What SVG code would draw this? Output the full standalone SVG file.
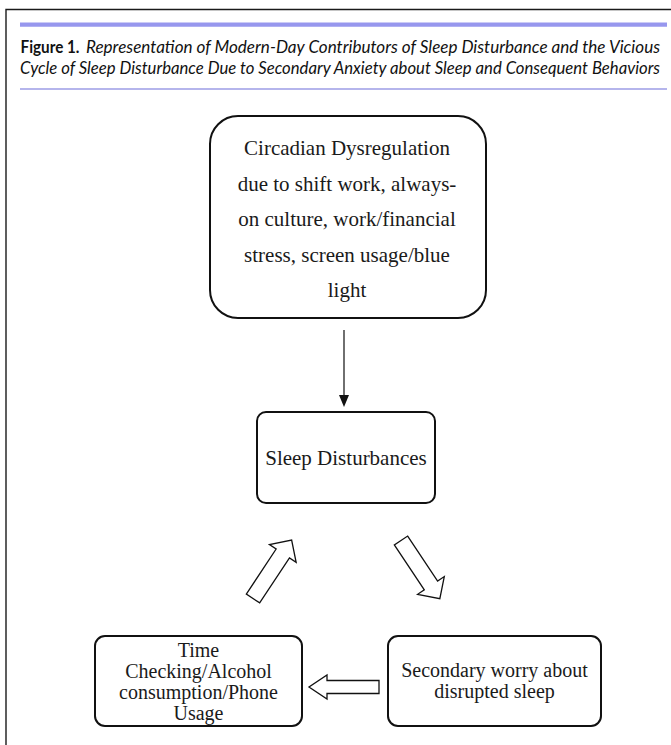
<svg xmlns="http://www.w3.org/2000/svg" width="671" height="745" viewBox="0 0 671 745">
<style>
.frame{fill:none;stroke:#1a1a1a;stroke-width:1.4}
.box{fill:#fff;stroke:#111;stroke-width:2}
.lbl{font-family:"Liberation Serif","Times New Roman",serif;font-size:21px;fill:#1a1a1a;text-anchor:middle}
.tight{font-size:20px}
.cap{font-family:Lato,"Open Sans",sans-serif;font-size:16.5px;fill:#111}
.hollow{fill:#fff;stroke:#111;stroke-width:1.3;stroke-linejoin:miter}
</style>
<defs>
<path id="diag" d="M0,-8 L54,-8 L54,-16 L70,0 L54,16 L54,8 L0,8 Z"/>
</defs>
<rect width="671" height="745" fill="#fff"/>
<g id="frame">
<path class="frame" d="M6,745 V9.5 H671"/>
<line x1="20" y1="24.6" x2="667" y2="24.6" stroke="#9797ee" stroke-width="4.4"/>
<line x1="20" y1="89" x2="667" y2="89" stroke="#9d9de6" stroke-width="1.3"/>
</g>
<g id="caption">
<text class="cap" x="20.5" y="53" font-weight="bold" font-size="18" textLength="59" lengthAdjust="spacingAndGlyphs">Figure 1.</text>
<text class="cap" x="86" y="53" font-style="italic" textLength="574" lengthAdjust="spacingAndGlyphs">Representation of Modern-Day Contributors of Sleep Disturbance and the Vicious</text>
<text class="cap" x="20" y="74" font-style="italic" textLength="640" lengthAdjust="spacingAndGlyphs">Cycle of Sleep Disturbance Due to Secondary Anxiety about Sleep and Consequent Behaviors</text>
</g>
<g id="connectors">
<line x1="344" y1="330" x2="344" y2="395" stroke="#222" stroke-width="1.3"/>
<path d="M339,395 L349,395 L344,407 Z" fill="#111"/>
<use href="#diag" class="hollow" transform="translate(401,540.5) rotate(56.3)"/>
<use href="#diag" class="hollow" transform="translate(253,598.5) rotate(-56.5)"/>
<path class="hollow" d="M379,680.5 L327,680.5 L327,675 L309,687 L327,699 L327,693.5 L379,693.5 Z"/>
</g>
<g id="node-circadian">
<rect class="box" x="210" y="116" width="276" height="202" rx="28" ry="28"/>
<text class="lbl" x="347" y="155">Circadian Dysregulation</text>
<text class="lbl" x="347" y="190.5">due to shift work, always-</text>
<text class="lbl" x="347" y="226">on culture, work/financial</text>
<text class="lbl" x="347" y="261.5">stress, screen usage/blue</text>
<text class="lbl" x="347" y="297">light</text>
</g>
<g id="node-sleep">
<rect class="box" x="257" y="412" width="178" height="91" rx="9" ry="9"/>
<text class="lbl" x="346" y="465">Sleep Disturbances</text>
</g>
<g id="node-behaviors">
<rect class="box" x="95" y="636" width="207" height="90" rx="10" ry="10"/>
<text class="lbl tight" x="198.5" y="657">Time</text>
<text class="lbl tight" x="198.5" y="678">Checking/Alcohol</text>
<text class="lbl tight" x="198.5" y="699">consumption/Phone</text>
<text class="lbl tight" x="198.5" y="720">Usage</text>
</g>
<g id="node-worry">
<rect class="box" x="388" y="636" width="213" height="90" rx="10" ry="10"/>
<text class="lbl tight" x="494.5" y="677">Secondary worry about</text>
<text class="lbl tight" x="494.5" y="698">disrupted sleep</text>
</g>
</svg>
